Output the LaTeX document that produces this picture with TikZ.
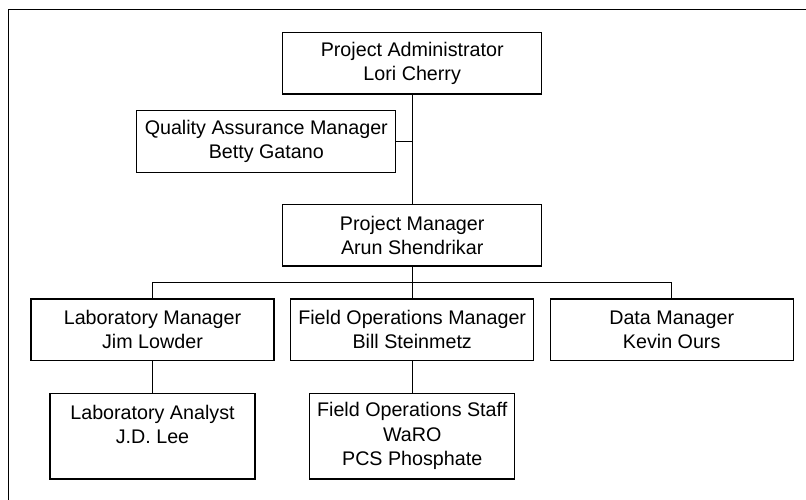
\documentclass[tikz,border=0pt]{standalone}
\usepackage{fontspec}
\setmainfont{Liberation Sans}
\begin{document}
\begin{tikzpicture}[x=1pt,y=-1pt,
  orgbox/.style={draw=black,line width=1.2pt,inner sep=0pt,align=center,
    font=\fontsize{19.7}{24.3}\selectfont,minimum height=61.5pt},
  wide/.style={minimum width=259pt},
  mid/.style={minimum width=243pt},
  small/.style={minimum width=205pt,minimum height=85.7pt},
  conn/.style={line width=1.2pt,black}]
\useasboundingbox (0,0) rectangle (806,500);
\draw[line width=1.5pt] (8.5,500) -- (8.5,9.5) -- (806,9.5);
\node[orgbox,wide] (pa) at (412.2,63.2) {Project Administrator\\Lori Cherry};
\node[orgbox,wide] (qa) at (266.3,141.5) {Quality Assurance Manager\\Betty Gatano};
\node[orgbox,wide] (pm) at (412.2,235.3) {Project Manager\\Arun Shendrikar};
\node[orgbox,mid] (lm) at (152.5,329.7) {Laboratory Manager\\Jim Lowder};
\node[orgbox,mid] (fom) at (412.2,329.7) {Field Operations Manager\\Bill Steinmetz};
\node[orgbox,mid] (dm) at (671.7,329.7) {Data Manager\\Kevin Ours};
\node[orgbox,small] (la) at (152.5,436.2) {Laboratory Analyst\\J.D. Lee\\\mbox{}};
\node[orgbox,small] (fos) at (412.2,436.2) {Field Operations Staff\\WaRO\\PCS Phosphate};
\coordinate (bus) at (412.2,282.7);
\draw[conn] (pa.south) -- (pm.north);
\draw[conn] (qa.east) -- (pa.south |- qa.east);
\draw[conn] (pm.south) -- (fom.north);
\draw[conn] (lm.north) -- (lm.north |- bus) -- (dm.north |- bus) -- (dm.north);
\draw[conn] (lm.south) -- (la.north);
\draw[conn] (fom.south) -- (fos.north);
\end{tikzpicture}
\end{document}
